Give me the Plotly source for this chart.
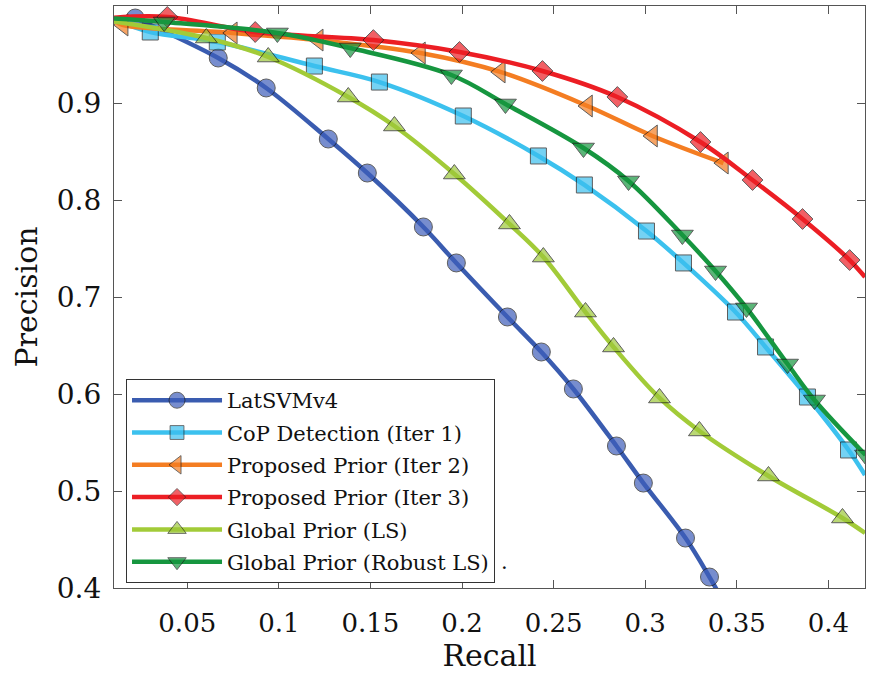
import plotly.graph_objects as go

# ---- data ----
lat_x = [0.0216, 0.0669, 0.0931, 0.1270, 0.1483, 0.1789, 0.1969, 0.2248, 0.2433, 0.2608, 0.2843, 0.2990, 0.3220, 0.3351]
lat_y = [0.9876, 0.9464, 0.9155, 0.8629, 0.8278, 0.7722, 0.7351, 0.6794, 0.6433, 0.6052, 0.5464, 0.5082, 0.4515, 0.4113]
lat_end = (0.3400, 0.3950)

cop_x = [0.0298, 0.0664, 0.1194, 0.1549, 0.2007, 0.2417, 0.2668, 0.3007, 0.3209, 0.3493, 0.3657, 0.3886, 0.4110]
cop_y = [0.9732, 0.9629, 0.9381, 0.9216, 0.8866, 0.8454, 0.8155, 0.7680, 0.7351, 0.6845, 0.6485, 0.5969, 0.5423]
cop_start = (0.0100, 0.9860)
cop_end = (0.4200, 0.5165)

it2_x = [0.0150, 0.0746, 0.1215, 0.1773, 0.2209, 0.2685, 0.3040, 0.3427]
it2_y = [0.9804, 0.9722, 0.9649, 0.9515, 0.9320, 0.8969, 0.8660, 0.8381]
it2_start = (0.0100, 0.9850)

it3_x = [0.0391, 0.0871, 0.1516, 0.1986, 0.2439, 0.2848, 0.3302, 0.3586, 0.3859, 0.4116]
it3_y = [0.9887, 0.9732, 0.9649, 0.9526, 0.9330, 0.9062, 0.8598, 0.8206, 0.7804, 0.7381]
it3_start = (0.0100, 0.9880)
it3_end = (0.4200, 0.7206)

gls_x = [0.0604, 0.0942, 0.1379, 0.1631, 0.1958, 0.2259, 0.2444, 0.2674, 0.2827, 0.3078, 0.3296, 0.3673, 0.4077]
gls_y = [0.9670, 0.9474, 0.9062, 0.8763, 0.8268, 0.7753, 0.7412, 0.6845, 0.6485, 0.5959, 0.5619, 0.5155, 0.4722]
gls_start = (0.0100, 0.9840)
gls_end = (0.4200, 0.4567)

grb_x = [0.0374, 0.0992, 0.1390, 0.1942, 0.2237, 0.2663, 0.2909, 0.3203, 0.3384, 0.3553, 0.3777, 0.3924, 0.4203]
grb_y = [0.9835, 0.9722, 0.9567, 0.9289, 0.8990, 0.8536, 0.8196, 0.7639, 0.7268, 0.6887, 0.6309, 0.5938, 0.5371]
grb_start = (0.0100, 0.9870)

x_ticks = [0.05, 0.1, 0.15, 0.2, 0.25, 0.3, 0.35, 0.4]
x_tick_text = ["0.05", "0.1", "0.15", "0.2", "0.25", "0.3", "0.35", "0.4"]
y_ticks = [0.4, 0.5, 0.6, 0.7, 0.8, 0.9, 1.0]
y_tick_text = ["0.4", "0.5", "0.6", "0.7", "0.8", "0.9", "1"]

series = [
    ("LatSVMv4", lat_x, lat_y, None, lat_end, "#3A5CB0", "#3E5EBA", "circle", 18),
    ("CoP Detection (Iter 1)", cop_x, cop_y, cop_start, cop_end, "#3CC1EE", "#3BBFEF", "square", 16),
    ("Proposed Prior (Iter 2)", it2_x, it2_y, it2_start, None, "#F47D22", "#F47D22", "triangle-left", 19),
    ("Proposed Prior (Iter 3)", it3_x, it3_y, it3_start, it3_end, "#EC1E24", "#EC1E24", "diamond", 16),
    ("Global Prior (LS)", gls_x, gls_y, gls_start, gls_end, "#A2CB38", "#9DC83A", "triangle-up", 19),
    ("Global Prior (Robust LS)", grb_x, grb_y, grb_start, None, "#16963F", "#16963F", "triangle-down", 19),
]

FONT = "DejaVu Serif"

fig = go.Figure()
for i, (name, xs, ys, start, end, lc, mc, sym, ms) in enumerate(series):
    px = list(xs)
    py = list(ys)
    sizes = [ms] * len(xs)
    lws = [1] * len(xs)
    if start is not None:
        px = [start[0]] + px
        py = [start[1]] + py
        sizes = [0] + sizes
        lws = [0] + lws
    if end is not None:
        px = px + [end[0]]
        py = py + [end[1]]
        sizes = sizes + [0]
        lws = lws + [0]
    fig.add_trace(go.Scatter(
        x=px, y=py, name=name, mode="lines+markers", legendgroup=f"g{i}",
        line=dict(color=lc, width=4.5, shape="spline", smoothing=1.0),
        marker=dict(symbol=sym, size=sizes, color=mc,
                    line=dict(color="#1a1a1a", width=lws)),
    ))

axis_common = dict(
    showline=True, linecolor="#555555", linewidth=1.3, mirror="ticks",
    ticks="inside", ticklen=8, tickwidth=1.2, tickcolor="#555555",
    showgrid=False, zeroline=False,
)

fig.update_xaxes(
    range=[0.01, 0.42], tickmode="array", tickvals=x_ticks, ticktext=x_tick_text,
    tickfont=dict(family=FONT, size=26, color="#111111"),
    ticklabelstandoff=12,
    title=dict(text="Recall", font=dict(family=FONT, size=30, color="#111111"), standoff=0),
    **axis_common,
)
fig.update_yaxes(
    range=[0.4, 1.0], tickmode="array", tickvals=y_ticks, ticktext=y_tick_text,
    tickfont=dict(family=FONT, size=28, color="#111111"),
    ticklabelstandoff=6,
    title=dict(text="Precision", font=dict(family=FONT, size=30, color="#111111"), standoff=10),
    **axis_common,
)

fig.add_annotation(x=0.513, y=0.045, xref="paper", yref="paper", text=".",
                   showarrow=False, font=dict(family=FONT, size=21, color="#111111"),
                   xanchor="left", yanchor="middle")

fig.update_layout(
    width=871, height=677,
    margin=dict(l=114, r=6, t=6, b=89, autoexpand=False),
    plot_bgcolor="white", paper_bgcolor="white",
    legend=dict(
        x=0.016, y=0.359, xanchor="left", yanchor="top",
        bgcolor="white", bordercolor="#333333", borderwidth=1,
        font=dict(family=FONT, size=21, color="#111111"),
        itemsizing="trace", itemwidth=90, tracegroupgap=2,
        traceorder="grouped",
    ),
)

fig.write_html("out.html")
